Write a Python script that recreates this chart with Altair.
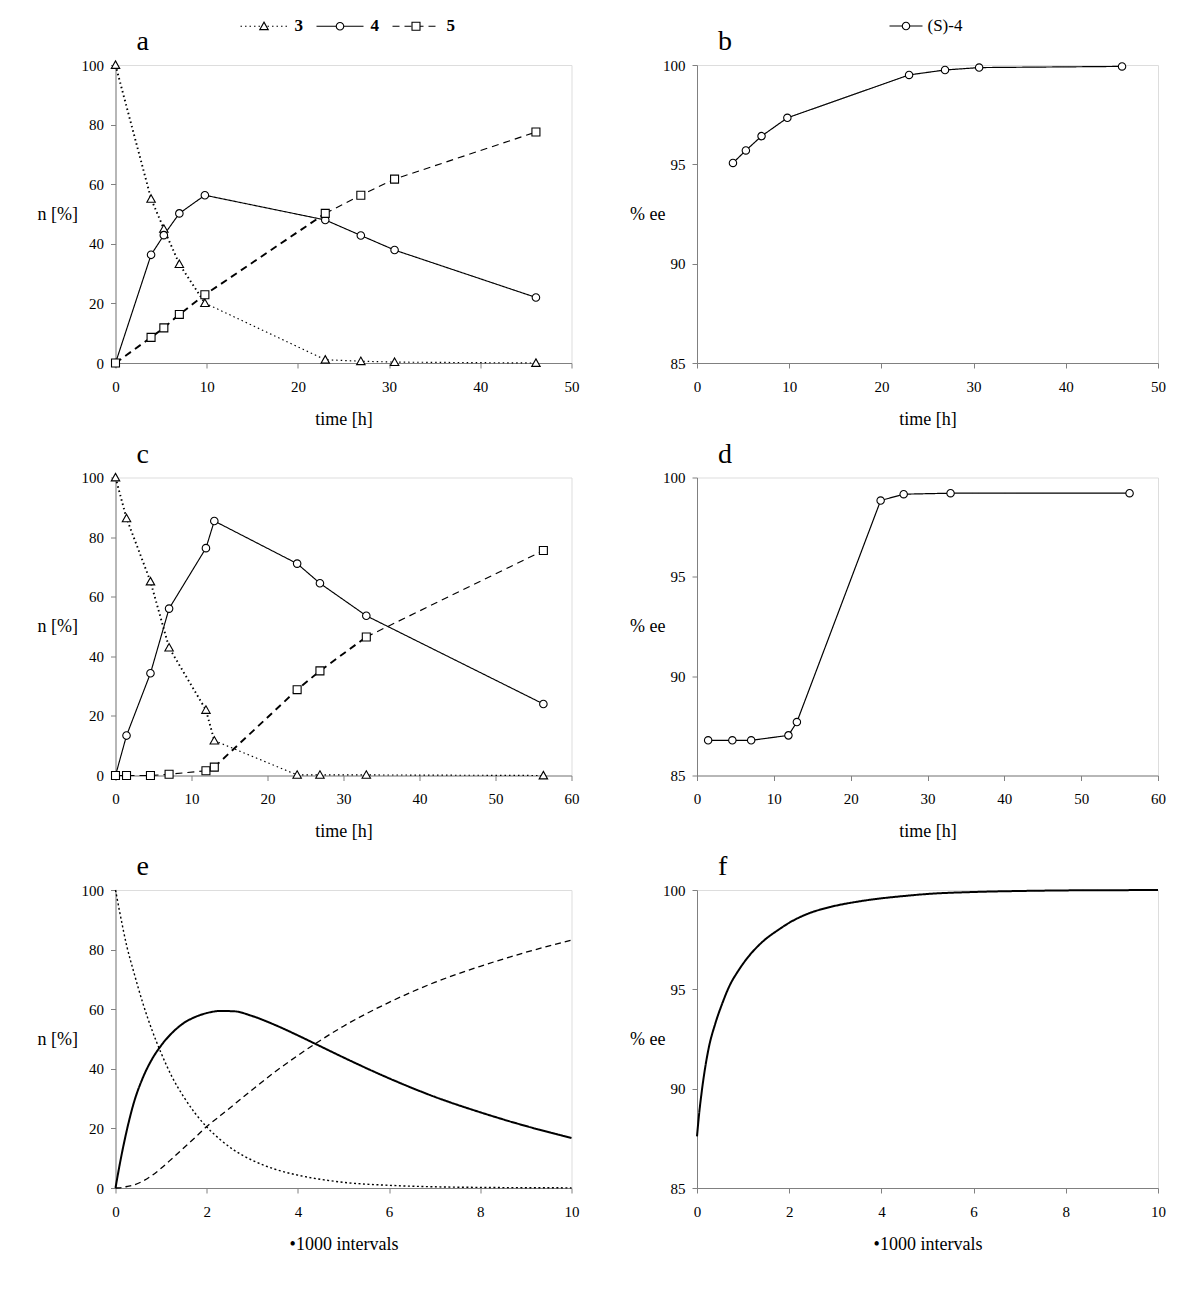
import altair as alt
import pandas as pd

FONT = "Liberation Serif"

# ---------------- data ----------------
# panel a
t_a = [0, 3.9, 5.3, 7.0, 9.8, 23.0, 26.9, 30.6, 46.1]
a3 = [100, 55.1, 45.0, 33.2, 20.1, 1.1, 0.6, 0.3, 0.0]
a4 = [0, 36.3, 42.9, 50.2, 56.3, 48.0, 42.8, 37.9, 22.0]
a5 = [0, 8.6, 11.8, 16.3, 22.9, 50.2, 56.3, 61.7, 77.5]

# panel b
t_b = [3.9, 5.3, 7.0, 9.8, 23.0, 26.9, 30.6, 46.1]
ee_b = [95.07, 95.70, 96.42, 97.34, 99.50, 99.75, 99.87, 99.93]

# panel c
t_c = [0, 1.45, 4.6, 7.05, 11.9, 13.0, 23.9, 26.9, 33.0, 56.3]
c3 = [100, 86.3, 65.1, 42.9, 22.0, 11.7, 0.2, 0.2, 0.2, 0.0]
c4 = [0, 13.4, 34.3, 56.0, 76.3, 85.4, 71.1, 64.5, 53.6, 24.0]
c5 = [0, 0, 0, 0.4, 1.6, 2.8, 28.8, 35.1, 46.5, 75.5]

# panel d
t_d = [1.45, 4.6, 7.05, 11.9, 13.0, 23.9, 26.9, 33.0, 56.3]
ee_d = [86.77, 86.77, 86.77, 87.02, 87.69, 98.84, 99.16, 99.21, 99.21]

# panel e (simulation)
x_e = [0, 0.1, 0.25, 0.4, 0.6, 0.8, 1.0, 1.25, 1.5, 1.75, 2.0, 2.3, 2.6, 3.0,
       3.5, 4.0, 4.5, 5.0, 6.0, 7.0, 8.0, 9.0, 10.0]
e3 = [100, 92.0, 81.0, 72.5, 62.0, 53.0, 45.3, 37.0, 30.5, 25.0, 20.5, 16.2,
      12.7, 9.3, 6.3, 4.3, 2.9, 1.9, 0.9, 0.4, 0.2, 0.1, 0.05]
e4 = [0, 8.5, 19.5, 28.5, 37.0, 43.2, 47.8, 52.2, 55.4, 57.4, 58.7, 59.4,
      59.3, 57.7, 54.7, 51.2, 47.5, 43.8, 36.8, 30.6, 25.4, 20.8, 16.8]
e5 = [0, 0.05, 0.5, 1.0, 2.3, 4.2, 6.6, 10.0, 13.5, 17.0, 20.6, 24.3, 28.0,
      33.0, 39.0, 44.5, 49.6, 54.3, 62.3, 69.0, 74.4, 79.1, 83.2]

# panel f
x_f = [0, 0.04, 0.1, 0.18, 0.25, 0.4, 0.55, 0.7, 0.9, 1.1, 1.4, 1.8, 2.0, 2.4,
       2.9, 3.5, 4.0, 4.5, 5.0, 6.0, 7.0, 8.0, 9.0, 10.0]
ee_f = [87.6, 88.6, 89.8, 91.1, 92.0, 93.3, 94.3, 95.15, 95.95, 96.6, 97.35,
        98.05, 98.35, 98.8, 99.15, 99.42, 99.58, 99.7, 99.8, 99.9, 99.95, 99.98,
        99.99, 100.0]

SERIES = ["3", "4", "5"]
SERIES_B = ["(S)-4"]

# ---------------- styles ----------------
W1, W2, H = 456, 461, 298
DASHES = [[1.5, 3], [1, 0], [7, 5]]
DASHES_E = [[2, 2.5], [1, 0], [6, 4]]
# stretches of the curves that the original draws with a heavier pen
BOLD_A = {"3": (0, 9.8), "5": (0, 23.0)}
BOLD_C = {"3": (0, 13.0), "5": (13.0, 33.0)}
LINE_PATH = "M-4,0L4,0"
SZ_A = 138.06   # legend line 47 px
SZ_B = 68.06    # legend line 33 px
PATHS_A = [
    "M-4,0L-4,0M4,0L4,0M0,-0.7L0.72,0.58L-0.72,0.58Z",
    "M-4,0L-4,0M4,0L4,0M0.64,0A0.64,0.64,0,1,1,-0.64,0A0.64,0.64,0,1,1,0.64,0Z",
    "M-4,0L-4,0M4,0L4,0M-0.68,-0.68H0.68V0.68H-0.68Z",
]
PATH_B = "M-4,0L-4,0M4,0L4,0M0.9,0A0.9,0.9,0,1,1,-0.9,0A0.9,0.9,0,1,1,0.9,0Z"


def point_df(t, cols, names):
    rows = []
    for name, vals in zip(names, cols):
        for ti, v in zip(t, vals):
            rows.append({"t": ti, "v": v, "series": name, "sym": name})
    return pd.DataFrame(rows)


def line_df(t, cols, names, bold):
    rows = []
    for name, vals in zip(names, cols):
        lo, hi = bold.get(name, (None, None))
        for ti, v in zip(t, vals):
            if lo is None:
                parts = ["thin1"]
            else:
                parts = []
                if ti <= lo:
                    parts.append("thin1")
                if lo <= ti <= hi:
                    parts.append("bold")
                if ti >= hi:
                    parts.append("thin2")
            for p in parts:
                rows.append({"t": ti, "v": v, "series": name, "part": p})
    return pd.DataFrame(rows)


def xaxis(vals, title):
    return alt.Axis(values=vals, title=title, grid=False, format="d",
                    domainColor="#808080", tickColor="#808080", tickSize=5,
                    labelFont=FONT, labelFontSize=15, labelColor="black",
                    labelPadding=11, labelFlush=False, labelOverlap=False,
                    titleFont=FONT, titleFontSize=18, titleFontWeight="normal",
                    titleColor="black", titleY=56, titleBaseline="middle")


def yaxis(vals, title, tx):
    return alt.Axis(values=vals, title=title, grid=False, format="d",
                    domainColor="#808080", tickColor="#808080", tickSize=5,
                    labelFont=FONT, labelFontSize=15, labelColor="black",
                    labelPadding=7, labelFlush=False, labelOverlap=False,
                    titleFont=FONT, titleFontSize=18, titleFontWeight="normal",
                    titleColor="black", titleAngle=0, titleX=tx, titleY=H / 2,
                    titleAlign="right", titleBaseline="middle")


def ptitle(s, offset):
    return alt.TitleParams(text=s, anchor="start", frame="group", dx=21,
                           offset=offset, baseline="alphabetic", font=FONT,
                           fontSize=28, fontWeight="normal", color="black")


def leg_line(x, y, size, loff, weight):
    return alt.Legend(orient="none", legendX=x, legendY=y, direction="horizontal",
                      title=None, symbolType=LINE_PATH, symbolSize=size,
                      symbolStrokeWidth=1.2, symbolStrokeColor="black",
                      labelFont=FONT, labelFontSize=17, labelFontWeight=weight,
                      labelColor="black", labelOffset=loff, columnPadding=10,
                      padding=0)


def leg_mark(x, y, size, loff, weight):
    return alt.Legend(orient="none", legendX=x, legendY=y, direction="horizontal",
                      title=None, symbolSize=size, symbolStrokeWidth=1.1,
                      symbolFillColor="white", symbolOpacity=1,
                      labelFont=FONT, labelFontSize=17,
                      labelFontWeight=weight, labelOpacity=0, labelOffset=loff,
                      columnPadding=10, padding=0)


LEGX_A, LEGY = 140, -47.5
LEGX_B = 200.5
OFF_LEG, OFF_PLAIN = -60.5, -20


def kinetic_panel(t, cols, xmax, xticks, xtitle, letter, legend, markers, dashes,
                  widths=None, bold=None):
    x = alt.X("t:Q", scale=alt.Scale(domain=[0, xmax], nice=False),
              axis=xaxis(xticks, xtitle))
    y = alt.Y("v:Q", scale=alt.Scale(domain=[0, 100], nice=False),
              axis=yaxis([0, 20, 40, 60, 80, 100], "n [%]", -38))
    dash_scale = alt.Scale(domain=SERIES, range=dashes)
    leg = leg_line(LEGX_A, LEGY, SZ_A, 22, "bold") if legend else None
    layers = []
    if widths is None:
        ldf = line_df(t, cols, SERIES, bold or {})
        for part, wdt in (("thin1", 1.15), ("thin2", 1.15), ("bold", 1.9)):
            layers.append(alt.Chart(ldf).transform_filter(alt.datum.part == part)
                          .mark_line(color="black", strokeWidth=wdt).encode(
                x=x, y=y,
                strokeDash=alt.StrokeDash("series:N", scale=dash_scale, legend=leg)))
    else:
        ldf = line_df(t, cols, SERIES, {})
        for name, wdt in zip(SERIES, widths):
            layers.append(alt.Chart(ldf).transform_filter(alt.datum.series == name)
                          .mark_line(color="black", strokeWidth=wdt, interpolate="monotone").encode(
                x=x, y=y,
                strokeDash=alt.StrokeDash("series:N", scale=dash_scale, legend=None)))
    if markers:
        pdf = point_df(t, cols, SERIES)
        layers.append(alt.Chart(pdf).mark_point(filled=False, fill="white", stroke="black",
                                                strokeWidth=1.1, opacity=1, size=SZ_A).encode(
            x="t:Q", y="v:Q",
            shape=alt.Shape("sym:N", scale=alt.Scale(range=PATHS_A),
                            legend=leg_mark(LEGX_A, LEGY, SZ_A, 22, "bold") if legend else None)))
    off = OFF_LEG if legend else OFF_PLAIN
    return alt.layer(*layers).properties(width=W1, height=H, title=ptitle(letter, off))


def ee_panel(t, ee, xmax, xticks, xtitle, letter, legend, markers, width=1.2, interp="linear"):
    df = pd.DataFrame({"t": t, "v": ee, "series": SERIES_B[0], "sym": SERIES_B[0]})
    x = alt.X("t:Q", scale=alt.Scale(domain=[0, xmax], nice=False),
              axis=xaxis(xticks, xtitle))
    y = alt.Y("v:Q", scale=alt.Scale(domain=[85, 100], nice=False),
              axis=yaxis([85, 90, 95, 100], "% ee", -32))
    layers = [alt.Chart(df).mark_line(color="black", strokeWidth=width, interpolate=interp).encode(
        x=x, y=y,
        strokeDash=alt.StrokeDash("series:N", scale=alt.Scale(domain=SERIES_B, range=[[1, 0]]),
                                  legend=leg_line(LEGX_B, LEGY, SZ_B, 13, "normal") if legend else None))]
    if markers:
        layers.append(alt.Chart(df).mark_point(filled=False, fill="white", stroke="black",
                                               strokeWidth=1.1, opacity=1, size=SZ_B).encode(
            x="t:Q", y="v:Q",
            shape=alt.Shape("sym:N", scale=alt.Scale(range=[PATH_B]),
                            legend=leg_mark(LEGX_B, LEGY, SZ_B, 13, "normal") if legend else None)))
    off = OFF_LEG if legend else OFF_PLAIN
    return alt.layer(*layers).properties(width=W2, height=H, title=ptitle(letter, off))


pa = kinetic_panel(t_a, [a3, a4, a5], 50, [0, 10, 20, 30, 40, 50], "time [h]", "a", True, True,
                   DASHES, bold=BOLD_A)
pb = ee_panel(t_b, ee_b, 50, [0, 10, 20, 30, 40, 50], "time [h]", "b", True, True)
pc = kinetic_panel(t_c, [c3, c4, c5], 60, [0, 10, 20, 30, 40, 50, 60], "time [h]", "c", False, True,
                   DASHES, bold=BOLD_C)
pd_ = ee_panel(t_d, ee_d, 60, [0, 10, 20, 30, 40, 50, 60], "time [h]", "d", False, True)
pe = kinetic_panel(x_e, [e3, e4, e5], 10, [0, 2, 4, 6, 8, 10], "\u20221000 intervals", "e", False, False,
                   DASHES_E, widths=[1.4, 2.0, 1.3])
pf = ee_panel(x_f, ee_f, 10, [0, 2, 4, 6, 8, 10], "\u20221000 intervals", "f", False, False,
              width=2.0, interp="monotone")

IND = dict(strokeDash="independent", shape="independent")

chart = alt.concat(pa, pb, pc, pd_, pe, pf, columns=2,
                   spacing={"row": 114.5, "column": 125.5},
                   bounds="flush", align="each") \
    .resolve_scale(**IND).resolve_legend(**IND) \
    .properties(padding={"left": 28.5, "top": 9, "right": 5, "bottom": 5}) \
    .configure_view(stroke="#c0c0c0", strokeWidth=1) \
    .configure(background="white")

chart.save("out.html", embed_options={"renderer": "svg", "actions": False})
